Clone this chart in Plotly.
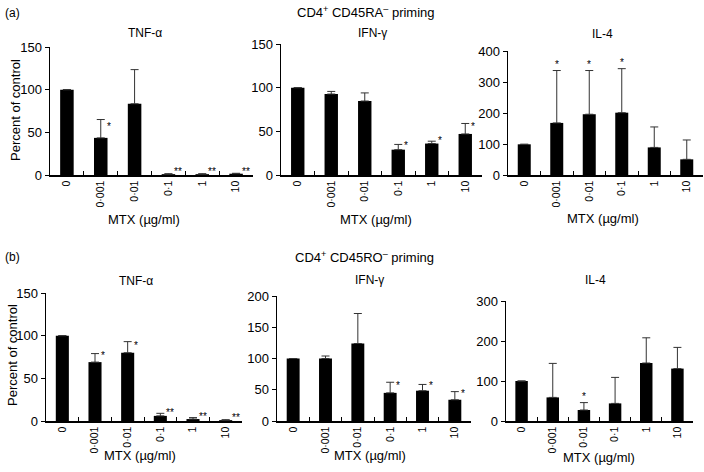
import plotly.graph_objects as go

W, H = 704, 472

categories = ["0", "0·001", "0·01", "0·1", "1", "10"]

# Panel (a): CD4+ CD45RA- priming
a_tnf = [100, 43.5, 83.5, 1.0, 1.0, 1.5]
a_tnf_sd = [0, 21.5, 40, 0.5, 0.5, 0.5]
a_tnf_sig = ["", "*", "", "**", "**", "**"]

a_ifn = [100, 92.7, 84.7, 29, 36, 47]
a_ifn_sd = [0, 3, 9.3, 6, 2.7, 12]
a_ifn_sig = ["", "", "", "*", "*", "*"]

a_il4 = [99, 168, 196, 201, 89, 50.5]
a_il4_sd = [0, 169, 141, 142, 66, 62.5]
a_il4_sig = ["", "*", "*", "*", "", ""]

# Panel (b): CD4+ CD45RO- priming
b_tnf = [100, 69, 80, 6, 2.3, 1.0]
b_tnf_sd = [0, 10, 13, 3, 1.7, 0.5]
b_tnf_sig = ["", "*", "*", "**", "**", "**"]

b_ifn = [100, 100, 124, 45, 48.5, 34]
b_ifn_sd = [0, 4, 48, 17, 10, 13]
b_ifn_sig = ["", "", "", "*", "*", "*"]

b_il4 = [100, 59, 27.5, 44, 145, 131]
b_il4_sd = [0, 85, 18.5, 65, 63, 53]
b_il4_sig = ["", "", "*", "", "", ""]

FONT = "Liberation Sans, Arial, sans-serif"

# panel geometry in pixels: (x0, x1, ytop, ybottom, ymax, ytickstep, star placement)
panels = [
    (a_tnf, a_tnf_sd, a_tnf_sig, (50, 253, 47, 175), 150, 50, "side"),
    (a_ifn, a_ifn_sd, a_ifn_sig, (281, 482, 44, 175), 150, 50, "side"),
    (a_il4, a_il4_sd, a_il4_sig, (508, 703, 51, 175), 400, 100, "top"),
    (b_tnf, b_tnf_sd, b_tnf_sig, (46, 242, 293, 421), 150, 50, "side"),
    (b_ifn, b_ifn_sd, b_ifn_sig, (277, 471, 296, 421), 200, 50, "side"),
    (b_il4, b_il4_sd, b_il4_sig, (506, 693, 301, 421), 300, 100, "top"),
]

fig = go.Figure()
annotations = []

for i, (vals, sd, sig, (x0, x1, yt, yb), ymax, step, mode) in enumerate(panels, start=1):
    xa = "x" if i == 1 else f"x{i}"
    ya = "y" if i == 1 else f"y{i}"
    fig.add_trace(go.Bar(
        x=categories, y=vals, xaxis=xa, yaxis=ya,
        marker=dict(color="black", line=dict(width=0)),
        width=0.4,
        error_y=dict(type="data", symmetric=False, array=sd,
                     arrayminus=[0] * len(sd), color="#333333",
                     thickness=1, width=4),
        showlegend=False,
    ))
    xkey = "xaxis" if i == 1 else f"xaxis{i}"
    ykey = "yaxis" if i == 1 else f"yaxis{i}"
    fig.layout[xkey] = dict(
        domain=[x0 / W, x1 / W], anchor=ya, type="category",
        range=[-0.5, len(categories) - 0.5], automargin=False,
        showline=True, linecolor="black", linewidth=1.5,
        ticks="inside", tickson="boundaries", ticklen=4, tickwidth=1,
        tickcolor="black", tickangle=-90,
        tickfont=dict(family=FONT, size=10.5, color="black"),
        showgrid=False, zeroline=False, fixedrange=True,
    )
    fig.layout[ykey] = dict(
        domain=[1 - yb / H, 1 - yt / H], anchor=xa, automargin=False,
        range=[0, ymax], tickvals=list(range(0, ymax + 1, step)),
        showline=True, linecolor="black", linewidth=1.5,
        ticks="outside", ticklen=4, tickwidth=1, tickcolor="black",
        tickfont=dict(family=FONT, size=13, color="black"),
        showgrid=False, zeroline=False, fixedrange=True,
    )
    for idx, (v, e, s) in enumerate(zip(vals, sd, sig)):
        if not s:
            continue
        if mode == "top":
            annotations.append(dict(
                x=idx, y=v + e, xref=xa, yref=ya, text=s, showarrow=False,
                xanchor="center", yanchor="bottom", yshift=-1,
                font=dict(family=FONT, size=10, color="black")))
        else:
            annotations.append(dict(
                x=idx, y=v + e / 2, xref=xa, yref=ya, text=s, showarrow=False,
                xanchor="center", yanchor="middle",
                xshift=8 if s == "*" else 10, yshift=2,
                font=dict(family=FONT, size=10, color="black")))


def label(text, px, py, size=12, angle=0, xanchor="center"):
    annotations.append(dict(
        x=px / W, y=1 - py / H, xref="paper", yref="paper", text=text,
        showarrow=False, xanchor=xanchor, yanchor="middle", textangle=angle,
        font=dict(family=FONT, size=size, color="black")))


label("(a)", 3, 13, 12, xanchor="left")
label("CD4<sup>+</sup> CD45RA<sup>–</sup> priming", 366, 12, 13)
label("TNF-α", 145, 33, 12)
label("IFN-γ", 372, 33, 12)
label("IL-4", 602, 34, 12)
label("MTX (µg/ml)", 144, 219, 13)
label("MTX (µg/ml)", 376, 219, 13)
label("MTX (µg/ml)", 603, 218, 13)
label("Percent of control", 15, 110, 13, angle=-90)

label("(b)", 3, 257, 12, xanchor="left")
label("CD4<sup>+</sup> CD45RO<sup>–</sup> priming", 364, 257, 13)
label("TNF-α", 136, 281, 12)
label("IFN-γ", 370, 280, 12)
label("IL-4", 595, 280, 12)
label("MTX (µg/ml)", 140, 455, 13)
label("MTX (µg/ml)", 370, 455, 13)
label("MTX (µg/ml)", 599, 457, 13)
label("Percent of control", 12, 355, 13, angle=-90)

fig.update_layout(
    width=W, height=H,
    margin=dict(l=0, r=0, t=0, b=0, autoexpand=False),
    paper_bgcolor="white", plot_bgcolor="white",
    bargap=0.6,
    annotations=annotations,
    font=dict(family=FONT, color="black"),
)

fig.write_html(
    "out.html",
    config={"displayModeBar": False, "staticPlot": True},
    post_script="document.body.style.margin='0px';document.body.style.overflow='hidden';",
)
